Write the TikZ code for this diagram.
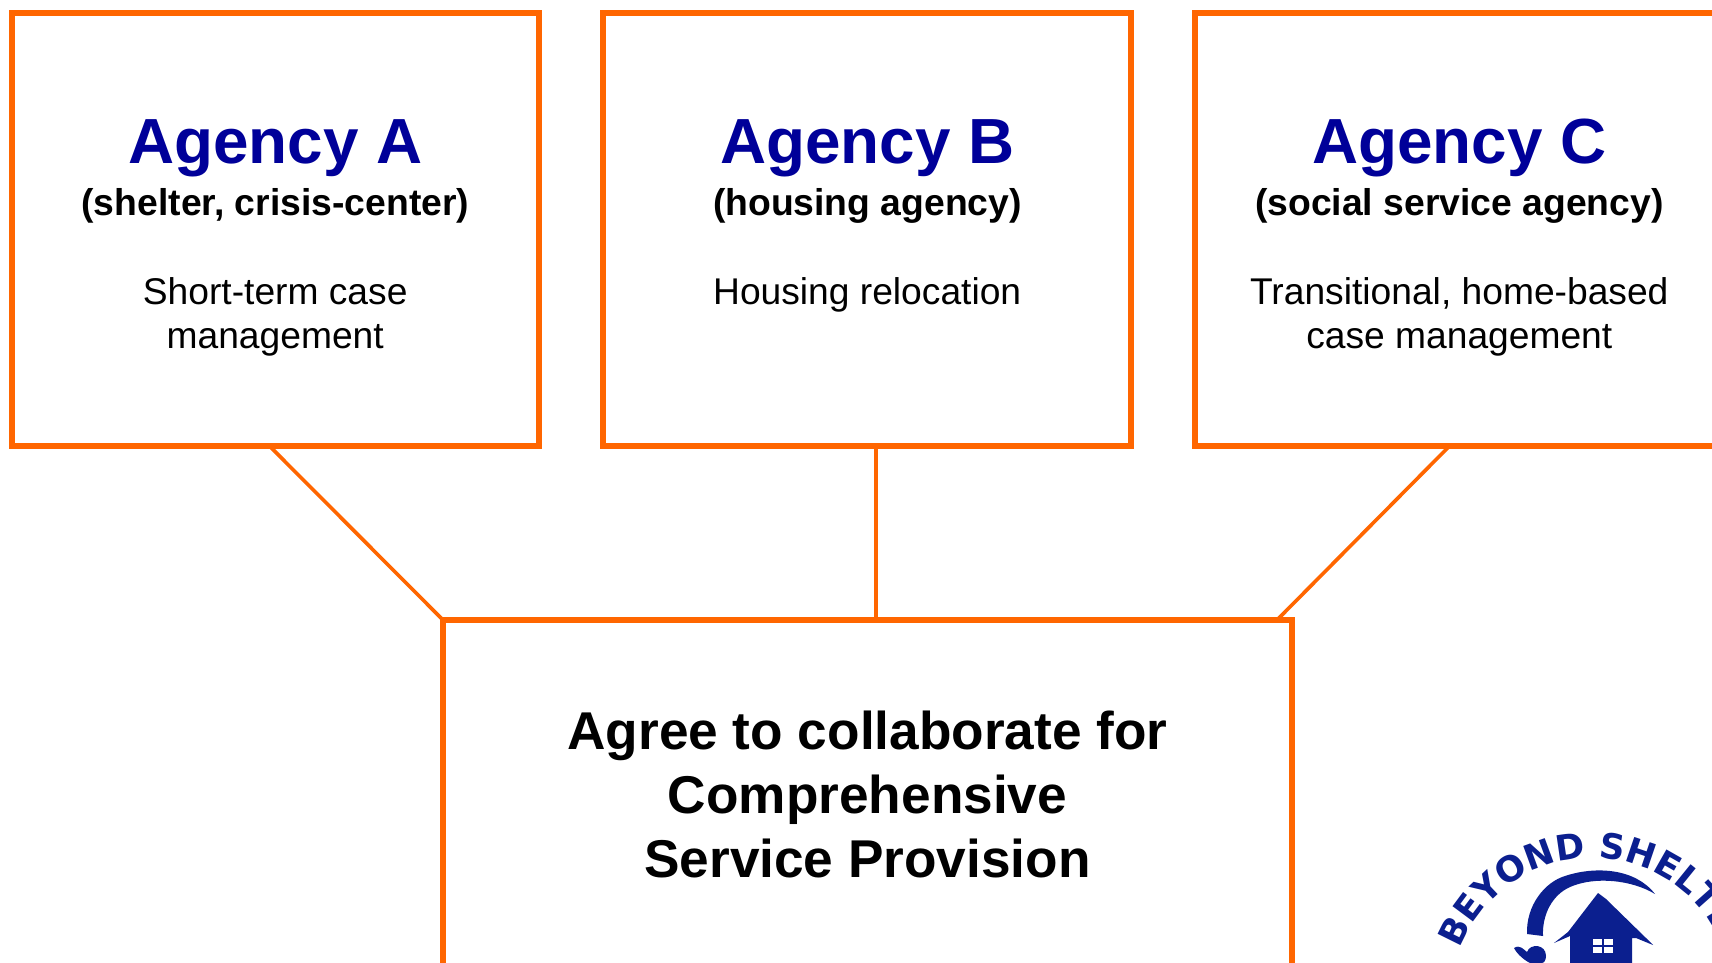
\documentclass[tikz,border=0pt]{standalone}
\usepackage{fontspec}
\setmainfont{Liberation Sans}
\newfontfamily\logofont{DejaVu Sans Bold}
\usetikzlibrary{decorations.text}
\definecolor{boxorange}{HTML}{FF6600}
\definecolor{agencyblue}{HTML}{000099}
\definecolor{logoblue}{HTML}{0B1F8F}
\tikzset{
  agencybox/.style={draw=boxorange,line width=6pt,fill=white,inner sep=0pt,outer sep=0pt,minimum width=#1,minimum height=432pt},
  link/.style={draw=boxorange,line width=3.6pt},
  title/.style={anchor=base,inner sep=0pt,text=agencyblue,font=\fontsize{63.8}{70}\selectfont\bfseries},
  kind/.style={anchor=base,inner sep=0pt,font=\fontsize{37.3}{42}\selectfont\bfseries},
  body/.style={anchor=base,inner sep=0pt,font=\fontsize{37.2}{42}\selectfont},
  goaltext/.style={anchor=base,inner sep=0pt,font=\fontsize{53.2}{60}\selectfont\bfseries}
}
\begin{document}
\begin{tikzpicture}[x=1pt,y=-1pt]
\useasboundingbox (0,0) rectangle (1712,963);
\clip (0,0) rectangle (1712,963);
\fill[white] (0,0) rectangle (1712,963);
\node[agencybox=527pt] (boxA) at (275,229.5) {};
\node[agencybox=527.5pt] (boxB) at (867.2,229.5) {};
\node[agencybox=527pt] (boxC) at (1458.5,229.5) {};
\node[draw=boxorange,line width=5.5pt,fill=white,inner sep=0pt,outer sep=0pt,minimum width=849pt,minimum height=420pt] (goal) at (867.5,830) {};
\draw[link] ([xshift=-6pt]boxA.south) -- (goal.north west);
\draw[link] ([xshift=8.5pt]boxB.south) -- ([xshift=8.5pt]boxB.south |- goal.north);
\draw[link] ([xshift=-8.5pt]boxC.south) -- ([xshift=-15pt]goal.north east);
% Agency A
\node[title] (ta) at (275.4,163) {Agency A};
\node[kind] (ka) at (275.4,215) {(shelter, crisis-center)};
\node[body] (ba1) at (275.2,304) {Short-term case};
\node[body] (ba2) at (275.2,348.5) {management};
% Agency B
\node[title] (tb) at (867.4,163) {Agency B};
\node[kind] (kb) at (867.4,215) {(housing agency)};
\node[body] (bb1) at (867.2,304) {Housing relocation};
% Agency C
\node[title] (tc) at (1459.3,163) {Agency C};
\node[kind] (kc) at (1459.3,215) {(social service agency)};
\node[body] (bc1) at (1459.3,304) {Transitional, home-based};
\node[body] (bc2) at (1459.3,348.5) {case management};
% goal
\node[goaltext] (g1) at (867.5,749) {Agree to collaborate for};
\node[goaltext] (g2) at (867.5,813) {Comprehensive};
\node[goaltext] (g3) at (867.5,877) {Service Provision};
% logo
\coordinate (logocentre) at (1592,999);
\begin{scope}[shift={(logocentre)},x=1pt,y=1pt]
\path[decorate,decoration={text along path,text align=left,
  text={|\logofont\fontsize{35}{35}\selectfont\color{logoblue}|BEYOND SHELTE}}]
  (159:141) arc[start angle=159,end angle=10,radius=141];
\end{scope}
\fill[logoblue] (1527,934) .. controls (1526,905) and (1545,882) .. (1565,876)
  .. controls (1595,866) and (1635,868) .. (1655,894)
  .. controls (1632,880) and (1595,876) .. (1570,887)
  .. controls (1552,895) and (1542,915) .. (1543,936) -- cycle;
\fill[logoblue] (1598,893) -- (1606,899) -- (1646,938) -- (1653,945) -- (1636,938) -- (1632,938)
  -- (1632,963) -- (1570,963) -- (1570,936) -- (1554,943) -- (1568,932) -- cycle;
\fill[white] (1593,939) rectangle (1613,953);
\draw[logoblue,line width=1.2pt] (1603,939) -- (1603,953) (1593,946) -- (1613,946);
\fill[logoblue] (1514,948) .. controls (1520,944) and (1524,950) .. (1527,952)
  .. controls (1530,943) and (1546,944) .. (1546,956)
  .. controls (1546,960) and (1544,963) .. (1542,963) -- (1530,963) .. controls (1524,960) and (1517,954) .. (1514,948) -- cycle;
\end{tikzpicture}
\end{document}
